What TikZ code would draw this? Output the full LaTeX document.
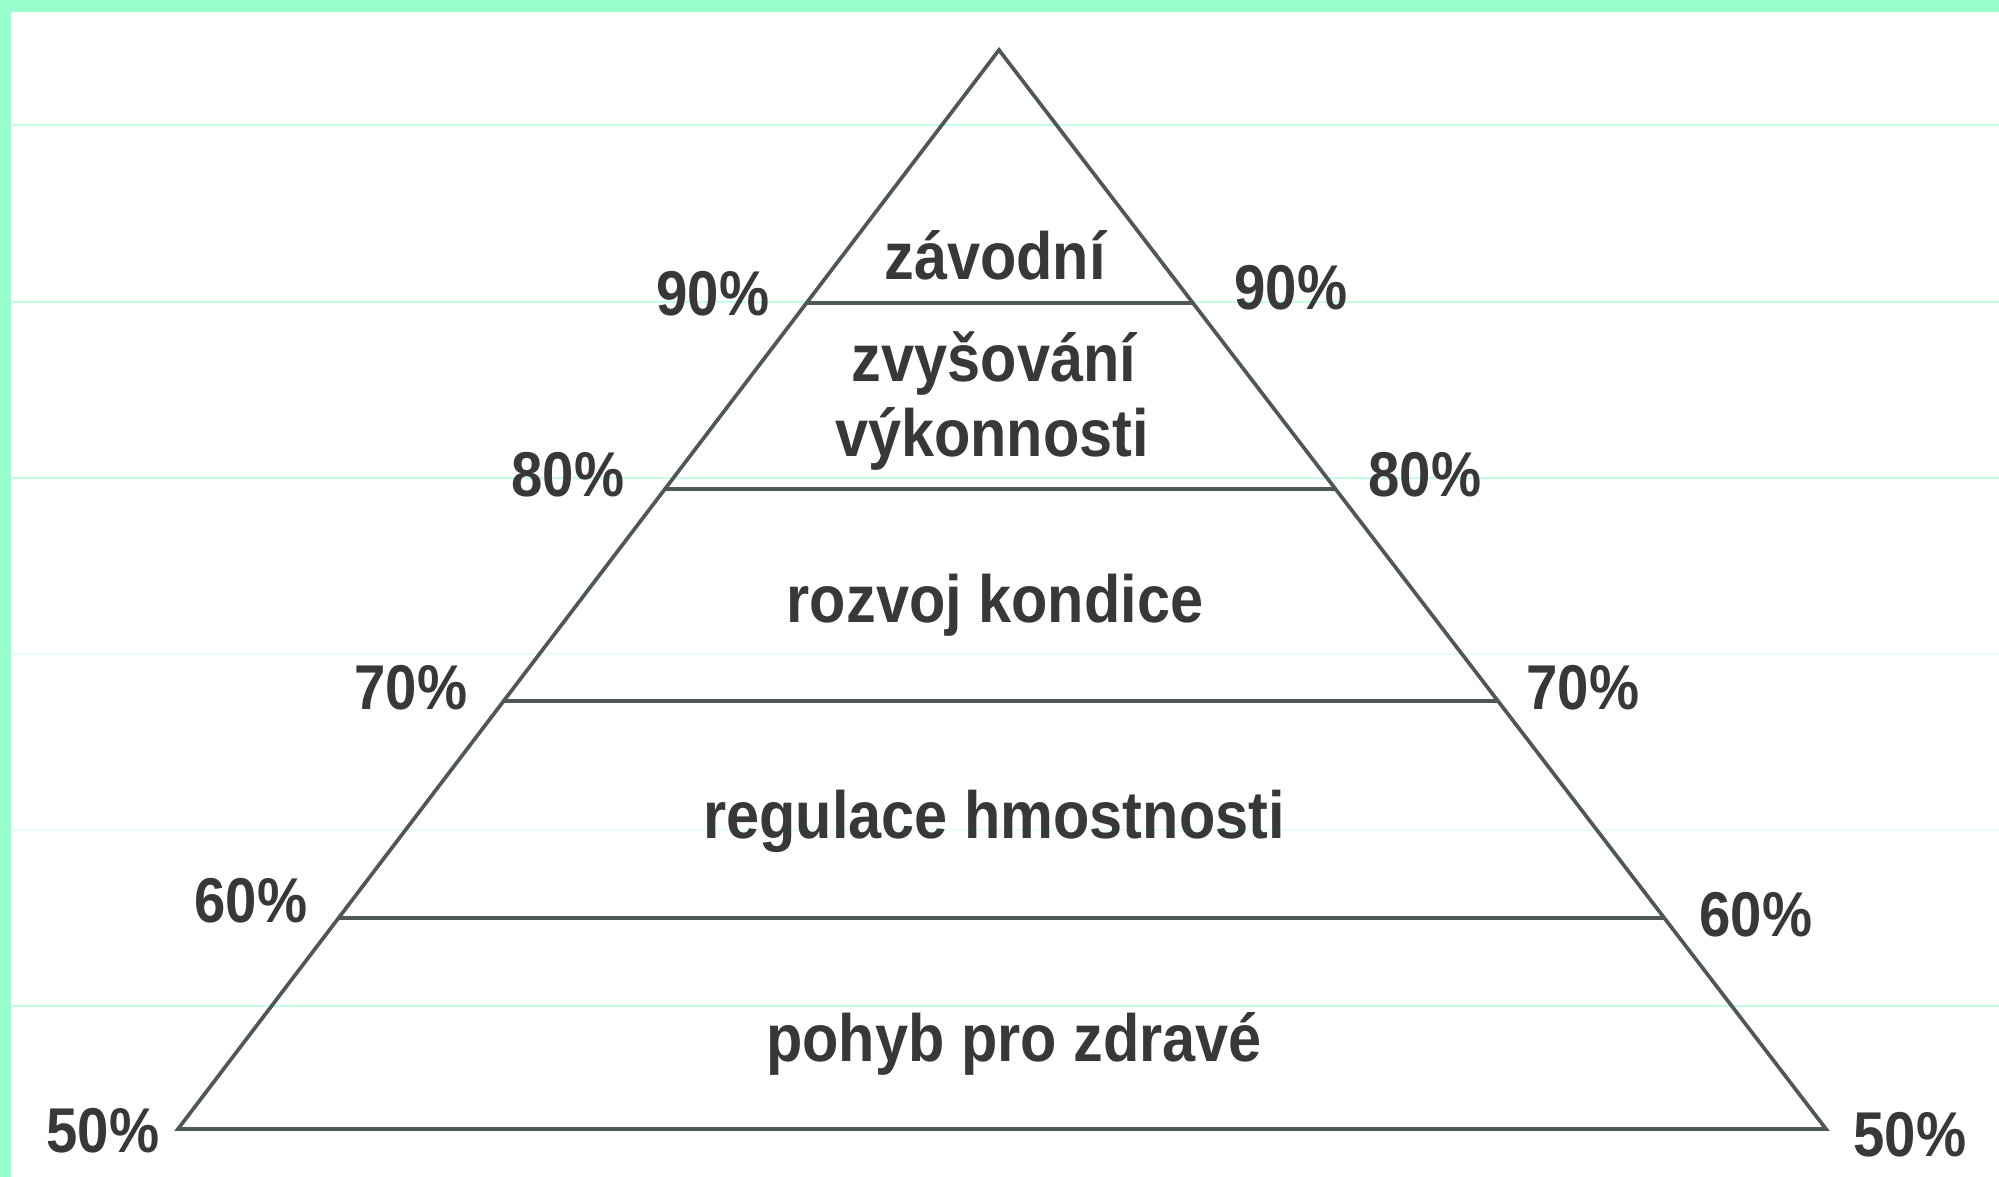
\documentclass[tikz,border=0pt]{standalone}
\usepackage{fontspec}
\newfontfamily\labfont[FakeStretch=0.89]{Liberation Sans}
\usetikzlibrary{calc}
\definecolor{mint}{HTML}{99FFCC}
\definecolor{gridA}{HTML}{C4FFE2}
\definecolor{gridB}{HTML}{E4FFF3}
\definecolor{edge}{HTML}{4F5757}
\definecolor{ink}{HTML}{383838}
\begin{document}
\begin{tikzpicture}[x=0.01cm,y=-0.01cm,
  lvl/.style={font=\labfont\bfseries\fontsize{19}{22}\selectfont, text=ink, anchor=base, inner sep=0pt},
  pct/.style={font=\labfont\bfseries\fontsize{18}{21}\selectfont, text=ink, anchor=base, inner sep=0pt},
  edgeline/.style={draw=edge, line width=1.05pt, line join=miter},
  gridline/.style={draw=gridA, line width=0.3pt}]
\useasboundingbox (0,0) rectangle (1999,1177);
\fill[white] (0,0) rectangle (1999,1177);
% faint background rules
\draw[gridline] (11,125) -- (1999,125);
\draw[gridline] (11,302) -- (1999,302);
\draw[gridline] (11,478) -- (1999,478);
\draw[gridline, draw=gridB] (11,654) -- (1999,654);
\draw[gridline, draw=gridB] (11,830) -- (1999,830);
\draw[gridline] (11,1006) -- (1999,1006);
% mint frame
\fill[mint] (0,0) rectangle (1999,12);
\fill[mint] (0,0) rectangle (11,1177);
% pyramid
\coordinate (apex) at (999,50);
\coordinate (bl) at (178,1129);
\coordinate (br) at (1826,1129);
\coordinate (l90) at ($(apex)!{253/1079}!(bl)$);
\coordinate (r90) at ($(apex)!{253/1079}!(br)$);
\coordinate (l80) at ($(apex)!{439/1079}!(bl)$);
\coordinate (r80) at ($(apex)!{439/1079}!(br)$);
\coordinate (l70) at ($(apex)!{651/1079}!(bl)$);
\coordinate (r70) at ($(apex)!{651/1079}!(br)$);
\coordinate (l60) at ($(apex)!{868/1079}!(bl)$);
\coordinate (r60) at ($(apex)!{868/1079}!(br)$);
\draw[edgeline] (l90) -- (r90);
\draw[edgeline] (l80) -- (r80);
\draw[edgeline] (l70) -- (r70);
\draw[edgeline] (l60) -- (r60);
\draw[edgeline] (bl) -- (apex) -- (br) -- cycle;
% level texts
\node[lvl] (t1) at (995,280) {závodní};
\node[lvl] (t2a) at (994,382) {zvyšování};
\node[lvl] (t2b) at (992,457) {výkonnosti};
\node[lvl] (t3) at (995,623) {rozvoj kondice};
\node[lvl] (t4) at (994,839) {regulace hmostnosti};
\node[lvl] (t5) at (1014,1062) {pohyb pro zdravé};
% percentages
\node[pct] (p90l) at (713,316) {90\%};
\node[pct] (p90r) at (1291,310) {90\%};
\node[pct] (p80l) at (568,497) {80\%};
\node[pct] (p80r) at (1425,497) {80\%};
\node[pct] (p70l) at (411,710) {70\%};
\node[pct] (p70r) at (1583,710) {70\%};
\node[pct] (p60l) at (251,923) {60\%};
\node[pct] (p60r) at (1756,937) {60\%};
\node[pct] (p50l) at (103,1153) {50\%};
\node[pct] (p50r) at (1910,1157) {50\%};
\end{tikzpicture}
\end{document}
